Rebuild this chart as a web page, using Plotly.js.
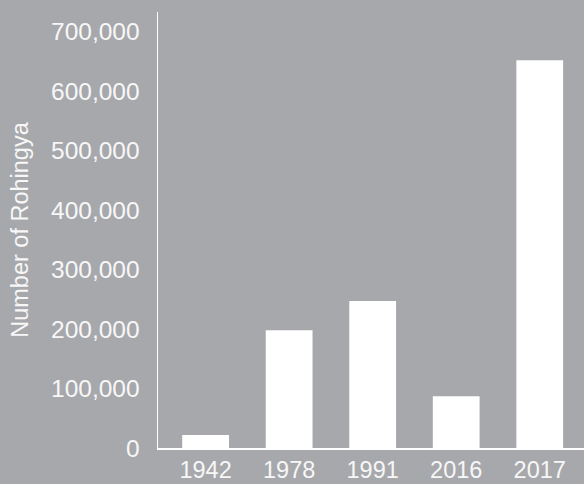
<!DOCTYPE html>
<html>
<head>
<meta charset="utf-8">
<script src="https://cdn.plot.ly/plotly-3.0.1.min.js"></script>
<style>
  html, body { margin: 0; padding: 0; background: #a7a8ac; }
  #chart { width: 584px; height: 484px; }
</style>
</head>
<body>
<div id="chart"></div>
<script>
const years = ["1942", "1978", "1991", "2016", "2017"];
const rohingya = [22000, 198000, 247000, 87000, 652000];
const yTickVals = [0, 100000, 200000, 300000, 400000, 500000, 600000, 700000];
const yTickText = ["0", "100,000", "200,000", "300,000", "400,000", "500,000", "600,000", "700,000"];

const bg = "#a7a8ac";
const fg = "#f7f7f7";

Plotly.newPlot("chart", [{
  type: "bar",
  x: years,
  y: rohingya,
  marker: { color: "#ffffff", line: { width: 0 } },
  hoverinfo: "none"
}], {
  width: 584,
  height: 484,
  paper_bgcolor: bg,
  plot_bgcolor: bg,
  margin: { l: 158, r: 0, t: 12, b: 36, pad: 0 },
  bargap: 0.44,
  showlegend: false,
  font: { family: "Liberation Sans, Arial, sans-serif", color: fg },
  xaxis: {
    type: "category",
    range: [-0.57, 4.53],
    showline: true,
    linecolor: "#ffffff",
    linewidth: 1.5,
    showgrid: false,
    zeroline: false,
    ticks: "",
    tickfont: { size: 23.5, color: fg },
    ticklabelstandoff: 0
  },
  yaxis: {
    range: [0, 733000],
    showline: true,
    linecolor: "#ffffff",
    linewidth: 1.5,
    showgrid: false,
    zeroline: false,
    ticks: "",
    tickmode: "array",
    tickvals: yTickVals,
    ticktext: yTickText,
    tickfont: { size: 24.5, color: fg },
    ticklabelstandoff: 12,
    title: { text: "Number of Rohingya", font: { size: 23.5, color: fg }, standoff: 16 }
  }
}, { displayModeBar: false, staticPlot: true });
</script>
</body>
</html>
